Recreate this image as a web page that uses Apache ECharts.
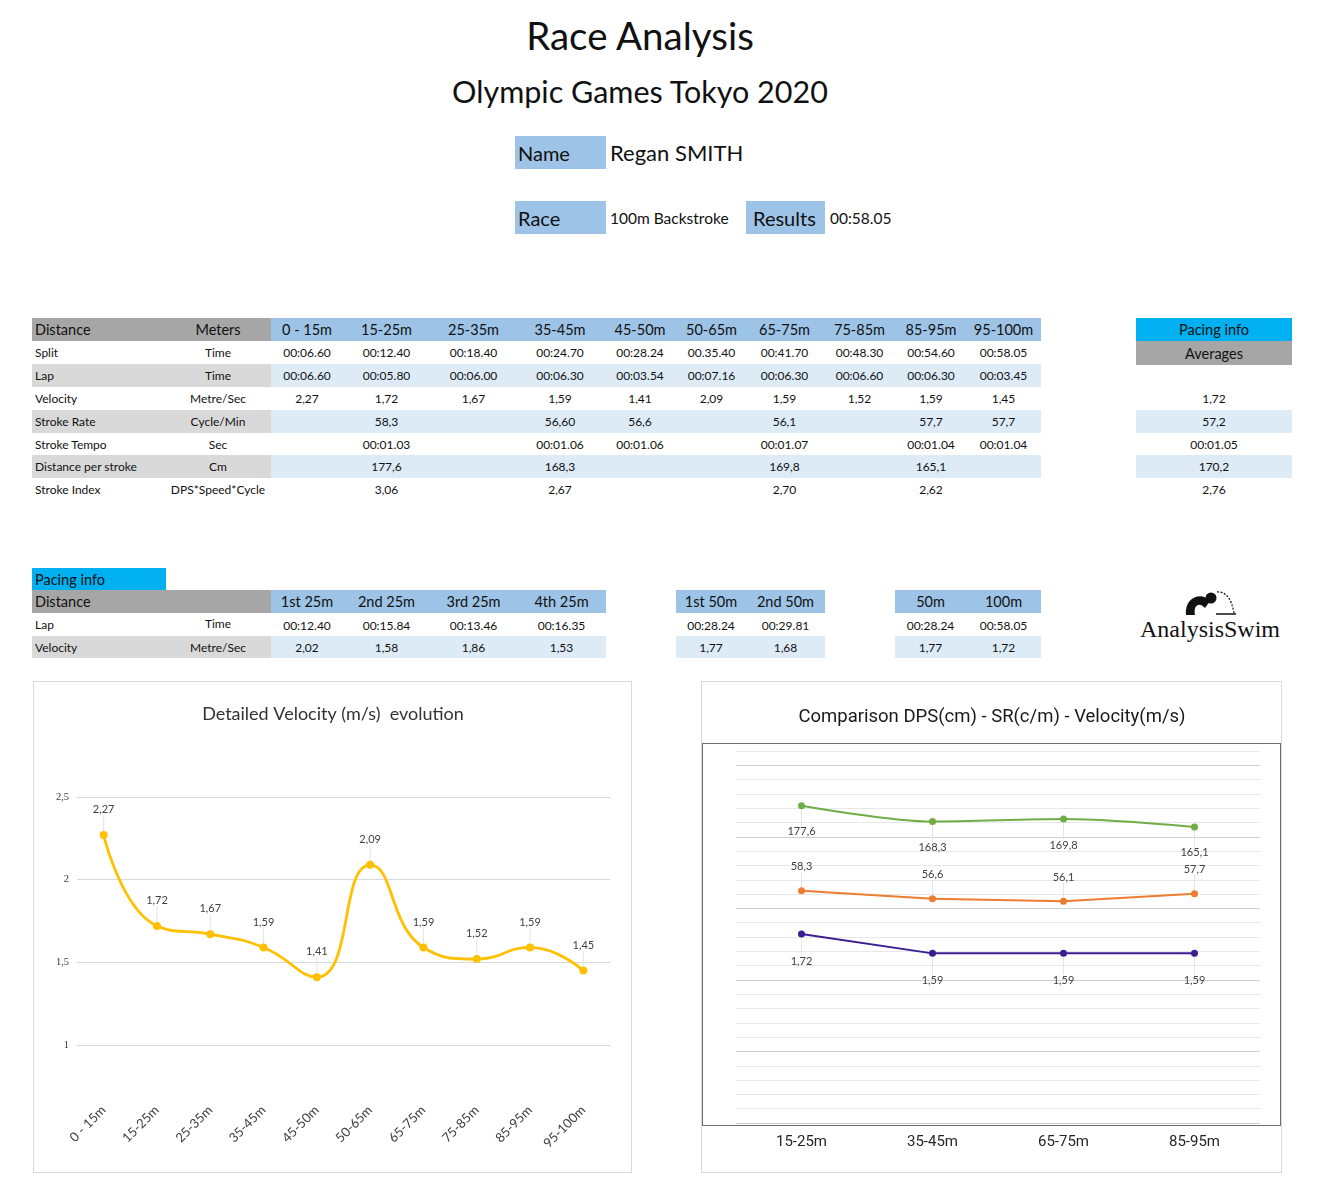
<!DOCTYPE html>
<html lang="en" style="height: 100%">
<head>
    <meta charset="utf-8">
    <style>
        body { margin: 0; background: #fff; font-family: Lato, 'Open Sans', sans-serif; color: #111; }
        #page { position: relative; width: 1320px; height: 1200px; overflow: hidden; }
        .c { position: absolute; display: flex; align-items: center; justify-content: center; white-space: nowrap; box-sizing: border-box; }
        .l { justify-content: flex-start; padding-left: 3px; }
        #container { position: absolute; left: 0; top: 670px; width: 1320px; height: 530px; z-index: 2; }
    </style>
</head>
<body>
<div id="page">
    <div id="container"></div>
</div>

<script type="text/javascript" src="https://cdn.jsdelivr.net/npm/echarts@6/dist/echarts.min.js"></script>
<script type="text/javascript">
    // race data
    var segments = ['0 - 15m', '15-25m', '25-35m', '35-45m', '45-50m', '50-65m', '65-75m', '75-85m', '85-95m', '95-100m'];
    var splitTimes = ['00:06.60', '00:12.40', '00:18.40', '00:24.70', '00:28.24', '00.35.40', '00:41.70', '00:48.30', '00:54.60', '00:58.05'];
    var lapTimes = ['00:06.60', '00:05.80', '00:06.00', '00:06.30', '00:03.54', '00:07.16', '00:06.30', '00:06.60', '00:06.30', '00:03.45'];
    var velocity = [2.27, 1.72, 1.67, 1.59, 1.41, 2.09, 1.59, 1.52, 1.59, 1.45];
    var strokeRateRow = ['', '58,3', '', '56,60', '56,6', '', '56,1', '', '57,7', '57,7'];
    var strokeTempoRow = ['', '00:01.03', '', '00:01.06', '00:01.06', '', '00:01.07', '', '00:01.04', '00:01.04'];
    var dpsRow = ['', '177,6', '', '168,3', '', '', '169,8', '', '165,1', ''];
    var strokeIndexRow = ['', '3,06', '', '2,67', '', '', '2,70', '', '2,62', ''];
    var averages = ['1,72', '57,2', '00:01.05', '170,2', '2,76'];

    var quarters = ['1st 25m', '2nd 25m', '3rd 25m', '4th 25m'];
    var quarterLaps = ['00:12.40', '00:15.84', '00:13.46', '00:16.35'];
    var quarterVel = ['2,02', '1,58', '1,86', '1,53'];
    var halves = ['1st 50m', '2nd 50m'];
    var halfLaps = ['00:28.24', '00:29.81'];
    var halfVel = ['1,77', '1,68'];
    var cumulative = ['50m', '100m'];
    var cumTimes = ['00:28.24', '00:58.05'];
    var cumVel = ['1,77', '1,72'];

    var compareCats = ['15-25m', '35-45m', '65-75m', '85-95m'];
    var dps = [177.6, 168.3, 169.8, 165.1];
    var strokeRate = [58.3, 56.6, 56.1, 57.7];
    var compareVel = [1.72, 1.59, 1.59, 1.59];

    var BLUE = '#9DC3E6', LBLUE = '#DDEBF7', GRAY = '#A6A6A6', LGRAY = '#D9D9D9', CYAN = '#00B0F0';
    var page = document.getElementById('page');

    function comma(v) { return String(v).replace('.', ','); }

    // put one cell on the page
    function cell(x, y, w, h, text, opt) {
        opt = opt || {};
        var d = document.createElement('div');
        d.className = 'c' + (opt.left ? ' l' : '');
        d.style.left = x + 'px'; d.style.top = y + 'px';
        d.style.width = w + 'px'; d.style.height = h + 'px';
        if (opt.bg) d.style.background = opt.bg;
        d.style.fontSize = (opt.size || 12) + 'px';
        if (opt.font) d.style.fontFamily = opt.font;
        if (opt.border) d.style.border = opt.border;
        if (opt.pad) d.style.paddingLeft = opt.pad + 'px';
        d.textContent = text || '';
        page.appendChild(d);
        return d;
    }

    // header
    cell(440, 12, 400, 46, 'Race Analysis', {size: 38.5});
    cell(400, 72, 480, 38, 'Olympic Games Tokyo 2020', {size: 30.5});
    cell(515, 136, 91, 33, 'Name', {bg: BLUE, size: 20, left: true});
    cell(607, 136, 200, 33, 'Regan SMITH', {size: 22, left: true});
    cell(515, 201, 91, 33, 'Race', {bg: BLUE, size: 20, left: true});
    cell(607, 201, 140, 33, '100m Backstroke', {size: 15.5, left: true});
    cell(746, 201, 79, 33, 'Results', {bg: BLUE, size: 20, left: true, pad: 7});
    cell(827, 201, 100, 33, '00:58.05', {size: 15.5, left: true});

    // detailed table
    var colX = [271, 343, 430, 517, 603, 677, 746, 823, 896, 966, 1041];
    var rowY = [318, 341, 364, 387, 410, 433, 455, 478, 500];
    cell(32, rowY[0], 239, rowY[1] - rowY[0], '', {bg: GRAY});
    cell(32, rowY[0], 130, rowY[1] - rowY[0], 'Distance', {size: 14.5, left: true});
    cell(165, rowY[0], 106, rowY[1] - rowY[0], 'Meters', {size: 14.5});
    segments.forEach(function (s, i) {
        cell(colX[i], rowY[0], colX[i + 1] - colX[i], rowY[1] - rowY[0], s, {bg: BLUE, size: 14.5});
    });
    var rows = [
        {label: 'Split', unit: 'Time', vals: splitTimes, shade: false},
        {label: 'Lap', unit: 'Time', vals: lapTimes, shade: true},
        {label: 'Velocity', unit: 'Metre/Sec', vals: velocity.map(comma), shade: false},
        {label: 'Stroke Rate', unit: 'Cycle/Min', vals: strokeRateRow, shade: true},
        {label: 'Stroke Tempo', unit: 'Sec', vals: strokeTempoRow, shade: false},
        {label: 'Distance per stroke', unit: 'Cm', vals: dpsRow, shade: true},
        {label: 'Stroke Index', unit: 'DPS*Speed*Cycle', vals: strokeIndexRow, shade: false}
    ];
    rows.forEach(function (r, k) {
        var y = rowY[k + 1], h = rowY[k + 2] - y;
        if (r.shade) {
            cell(32, y, 239, h, '', {bg: LGRAY});
            cell(271, y, 770, h, '', {bg: LBLUE});
        }
        cell(32, y, 130, h, r.label, {left: true});
        cell(165, y, 106, h, r.unit);
        r.vals.forEach(function (v, i) {
            cell(colX[i], y, colX[i + 1] - colX[i], h, v);
        });
    });
    // averages
    cell(1136, 318, 156, 23, 'Pacing info', {bg: CYAN, size: 14.5});
    cell(1136, 341, 156, 24, 'Averages', {bg: GRAY, size: 14.5});
    averages.forEach(function (v, i) {
        var y = rowY[i + 3], h = rowY[i + 4] - y;
        cell(1136, y, 156, h, v, {bg: (i % 2 === 1) ? LBLUE : null});
    });

    // pacing info
    cell(32, 568, 134, 22, 'Pacing info', {bg: CYAN, size: 14.5, left: true});
    var pY = [590, 613, 636, 658];
    cell(32, pY[0], 239, 23, 'Distance', {bg: GRAY, size: 14.5, left: true});
    cell(32, pY[1], 130, 23, 'Lap', {left: true});
    cell(165, pY[1], 106, 20, 'Time');
    cell(32, pY[2], 239, 22, '', {bg: LGRAY});
    cell(32, pY[2], 130, 22, 'Velocity', {left: true});
    cell(165, pY[2], 106, 22, 'Metre/Sec');
    function block(xs, heads, laps, vels) {
        heads.forEach(function (h, i) {
            var x = xs[i], w = xs[i + 1] - xs[i];
            cell(x, pY[0], w, 23, h, {bg: BLUE, size: 14.5});
            cell(x, pY[1] + 1, w, 23, laps[i]);
            cell(x, pY[2], w, 22, vels[i], {bg: LBLUE});
        });
    }
    block([271, 343, 430, 517, 606], quarters, quarterLaps, quarterVel);
    block([676, 746, 825], halves, halfLaps, halfVel);
    block([895, 966, 1041], cumulative, cumTimes, cumVel);

    // logo
    var logo = document.createElement('div');
    logo.innerHTML = '<svg width="70" height="32" style="position:absolute;left:1178px;top:587px">' +
        '<path d="M8 28 C6 10 24 4 32 14 L27 21 C22 15 15 17 17 28 Z" fill="#111"/>' +
        '<circle cx="33" cy="11" r="5.5" fill="#111"/>' +
        '<path d="M39 5 Q52 4 56 26" stroke="#111" stroke-width="1.2" fill="none" stroke-dasharray="2 1.5"/>' +
        '<line x1="38" y1="27" x2="58" y2="27" stroke="#111" stroke-width="1.5"/></svg>';
    page.appendChild(logo);
    cell(1130, 614, 160, 30, 'AnalysisSwim', {size: 24, font: "'Liberation Serif', 'DejaVu Serif', serif"});

    // chart frames
    cell(33, 681, 599, 492, '', {border: '1px solid #D9D9D9'});
    cell(701, 681, 581, 492, '', {border: '1px solid #D9D9D9'});
    cell(702, 743, 579, 383, '', {border: '1.5px solid #6F6F6F'});

    var dom = document.getElementById('container');
    var myChart = echarts.init(dom, null, {renderer: 'canvas'});

    var gridLines = ['#CFCFCF', '#E8E8E8', '#E8E8E8', '#E8E8E8', '#E8E8E8'];
    var smallLabel = {fontSize: 11, color: '#404040', fontFamily: 'Lato'};

    var option = {
        animation: false,
        title: [
            {
                text: 'Detailed Velocity (m/s)  evolution', left: 333, top: 35, textAlign: 'center', padding: 0,
                textStyle: {fontSize: 18, fontWeight: 'normal', color: '#333', fontFamily: 'Lato'}
            },
            {
                text: 'Comparison DPS(cm) - SR(c/m) - Velocity(m/s)', left: 992, top: 38, textAlign: 'center', padding: 0,
                textStyle: {fontSize: 18.5, fontWeight: 'normal', color: '#1a1a1a', fontFamily: 'Roboto'}
            }
        ],
        grid: [
            {left: 77, top: 127, width: 533, height: 248},
            {left: 736, top: 81, width: 524, height: 372}
        ],
        xAxis: [
            {
                type: 'category', gridIndex: 0, data: segments,
                axisLine: {show: false}, axisTick: {show: false},
                axisLabel: {rotate: 45, margin: 63, fontSize: 13, color: '#404040', fontFamily: 'Lato', interval: 0}
            },
            {
                type: 'category', gridIndex: 1, data: compareCats,
                axisLine: {show: false}, axisTick: {show: false},
                axisLabel: {margin: 12, fontSize: 15, color: '#262626', fontFamily: 'Roboto'}
            }
        ],
        yAxis: [
            {
                type: 'value', gridIndex: 0, min: 1, max: 2.5, interval: 0.5,
                axisLine: {show: false}, axisTick: {show: false},
                axisLabel: {formatter: comma, fontSize: 10.5, color: '#404040', margin: 8, fontFamily: "'Liberation Serif', serif"},
                splitLine: {lineStyle: {color: '#D9D9D9', width: 1.2}}
            },
            {
                type: 'value', gridIndex: 1, min: 0, max: 26, interval: 1,
                axisLine: {show: false}, axisTick: {show: false}, axisLabel: {show: false},
                splitLine: {lineStyle: {color: gridLines, width: 1.2}}
            },
            {type: 'value', gridIndex: 1, min: -10, max: 210, show: false, splitLine: {show: false}},
            {type: 'value', gridIndex: 1, min: 9, max: 88, show: false, splitLine: {show: false}},
            {type: 'value', gridIndex: 1, min: 0.45, max: 2.95, show: false, splitLine: {show: false}}
        ],
        series: [
            {
                name: 'Velocity', type: 'line', xAxisIndex: 0, yAxisIndex: 0, data: velocity,
                smooth: 0.5, symbol: 'circle', symbolSize: 8,
                itemStyle: {color: '#FFC000'}, lineStyle: {color: '#FFC000', width: 2.8},
                label: Object.assign({show: true, position: 'top', distance: 5, formatter: function (p) { return comma(p.value); }}, smallLabel),
                labelLayout: {dy: -11},
                labelLine: {show: true, lineStyle: {color: '#E4E4E4', width: 1}}
            },
            {
                name: 'DPS', type: 'line', xAxisIndex: 1, yAxisIndex: 2, data: dps,
                smooth: 0.3, symbol: 'circle', symbolSize: 7,
                itemStyle: {color: '#70AD47'}, lineStyle: {color: '#70AD47', width: 2},
                label: Object.assign({show: true, position: 'bottom', distance: 5, formatter: function (p) { return comma(p.value); }}, smallLabel),
                labelLayout: {dy: 12},
                labelLine: {show: true, lineStyle: {color: '#E4E4E4', width: 1}}
            },
            {
                name: 'SR', type: 'line', xAxisIndex: 1, yAxisIndex: 3, data: strokeRate,
                symbol: 'circle', symbolSize: 7,
                itemStyle: {color: '#ED7D31'}, lineStyle: {color: '#ED7D31', width: 2},
                label: Object.assign({show: true, position: 'top', distance: 5, formatter: function (p) { return comma(p.value); }}, smallLabel),
                labelLayout: {dy: -10},
                labelLine: {show: true, lineStyle: {color: '#E4E4E4', width: 1}}
            },
            {
                name: 'Velocity (m/s)', type: 'line', xAxisIndex: 1, yAxisIndex: 4, data: compareVel,
                symbol: 'circle', symbolSize: 7,
                itemStyle: {color: '#3B1E8F'}, lineStyle: {color: '#3B1E8F', width: 2},
                label: Object.assign({show: true, position: 'bottom', distance: 5, formatter: function (p) { return comma(p.value); }}, smallLabel),
                labelLayout: {dy: 13},
                labelLine: {show: true, lineStyle: {color: '#E4E4E4', width: 1}}
            }
        ]
    };

    myChart.setOption(option);
    window.addEventListener('resize', myChart.resize);
</script>
</body>
</html>
